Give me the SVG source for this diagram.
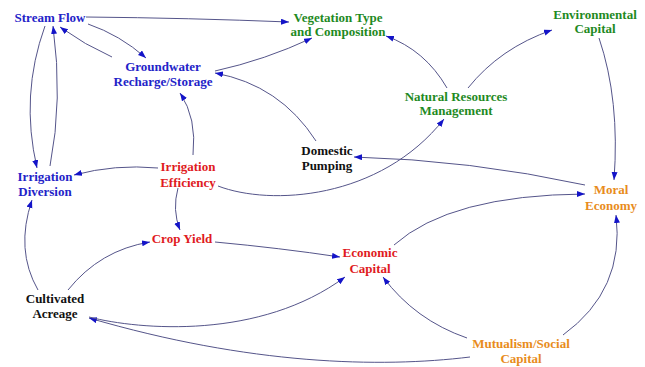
<svg xmlns="http://www.w3.org/2000/svg" width="645" height="367" viewBox="0 0 645 367">
<style>
text{font-family:"Liberation Serif","Times New Roman",serif;font-weight:bold;font-size:13px;text-anchor:middle}
.b{fill:#2323c8}.g{fill:#1f8a1f}.r{fill:#e01a22}.o{fill:#e88c1c}.k{fill:#111}
#edges path{fill:none;stroke:#55558a;stroke-width:1;marker-end:url(#ah)}
</style>
<defs>
<marker id="ah" markerUnits="userSpaceOnUse" markerWidth="9" markerHeight="7" refX="8" refY="3" orient="auto">
<path d="M0,0 L8,3 L0,6 z" fill="#1414c8"/>
</marker>
</defs>
<rect width="645" height="367" fill="#fff"/>
<g id="edges">
<path d="M86,17 Q190,18 289,22"/>
<path d="M88,24 Q120,35 146,58"/>
<path d="M112,57 Q85,45 60,27"/>
<path d="M45,26 Q20,95 37,168"/>
<path d="M50,166 Q63,100 53,26"/>
<path d="M215,71 Q265,60 312,38"/>
<path d="M316,141 Q280,85 215,73"/>
<path d="M193,155 Q197,118 180,93"/>
<path d="M158,168 Q115,164 74,175"/>
<path d="M218,186 C270,206 380,200 444,119"/>
<path d="M447,88 Q425,50 386,36"/>
<path d="M468,88 Q500,48 552,30"/>
<path d="M599,38 Q620,100 614,180"/>
<path d="M585,185 Q470,160 354,157"/>
<path d="M394,245 Q450,195 585,194"/>
<path d="M563,335 Q625,290 616,215"/>
<path d="M467,338 Q415,320 383,277"/>
<path d="M470,357 C380,368 250,365 89,318"/>
<path d="M89,317 C140,330 260,340 345,277"/>
<path d="M215,242 Q280,248 340,257"/>
<path d="M178,188 Q172,210 180,230"/>
<path d="M68,290 Q100,250 150,242"/>
<path d="M38,290 Q15,250 32,200"/>
</g>
<g id="stream-flow"><text class="b" x="50" y="22">Stream Flow</text></g>
<g id="vegetation"><text class="g" x="338" y="22">Vegetation Type</text><text class="g" x="338" y="36">and Composition</text></g>
<g id="environmental-capital"><text class="g" x="595" y="19">Environmental</text><text class="g" x="595" y="33">Capital</text></g>
<g id="groundwater"><text class="b" x="163" y="71">Groundwater</text><text class="b" x="163" y="86">Recharge/Storage</text></g>
<g id="nrm"><text class="g" x="456" y="101">Natural Resources</text><text class="g" x="456" y="115">Management</text></g>
<g id="domestic-pumping"><text class="k" x="327" y="155">Domestic</text><text class="k" x="327" y="170">Pumping</text></g>
<g id="irrigation-diversion"><text class="b" x="45" y="181">Irrigation</text><text class="b" x="45" y="196">Diversion</text></g>
<g id="irrigation-efficiency"><text class="r" x="188" y="171">Irrigation</text><text class="r" x="188" y="187">Efficiency</text></g>
<g id="moral-economy"><text class="o" x="611" y="194">Moral</text><text class="o" x="611" y="210">Economy</text></g>
<g id="crop-yield"><text class="r" x="182" y="243">Crop Yield</text></g>
<g id="economic-capital"><text class="r" x="370" y="257">Economic</text><text class="r" x="370" y="273">Capital</text></g>
<g id="cultivated-acreage"><text class="k" x="55" y="303">Cultivated</text><text class="k" x="55" y="318">Acreage</text></g>
<g id="mutualism"><text class="o" x="521" y="348">Mutualism/Social</text><text class="o" x="521" y="363">Capital</text></g>
</svg>
